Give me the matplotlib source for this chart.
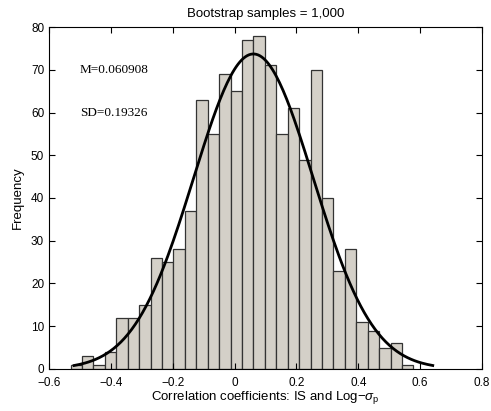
import numpy as np
import matplotlib
matplotlib.use("Agg")
import matplotlib.pyplot as plt

# histogram counts (30 bins)
counts = [1, 3, 1, 4, 12, 12, 15, 26, 25, 28, 37, 63, 55, 69, 65,
          77, 78, 71, 55, 61, 49, 70, 40, 23, 28, 11, 9, 5, 6, 1]
bin_lo = -0.530
bin_hi = 0.578
mean_r = 0.060908
sd_r = 0.19326
n_samples = 1000
fit_binwidth = 0.0357

plt.rcParams['font.family'] = ['Liberation Sans', 'DejaVu Sans']
plt.rcParams['mathtext.fontset'] = 'custom'
plt.rcParams['mathtext.rm'] = 'Liberation Sans'
plt.rcParams['mathtext.it'] = 'Liberation Sans:italic'

fig = plt.figure(figsize=(4.91, 4.11), dpi=100)
ax = fig.add_axes([0.0998, 0.1022, 0.8819, 0.8321])

edges = np.linspace(bin_lo, bin_hi, len(counts) + 1)
ax.bar(edges[:-1], counts, width=np.diff(edges), align='edge',
       color='#d4d0c8', edgecolor='#333333', linewidth=0.9)

# normal fit as in histfit: mean +- 3 sd
xs = np.linspace(mean_r - 3 * sd_r, mean_r + 3 * sd_r, 200)
ys = n_samples * fit_binwidth * np.exp(-0.5 * ((xs - mean_r) / sd_r) ** 2) / (sd_r * np.sqrt(2 * np.pi))
ax.plot(xs, ys, color='black', linewidth=2)

ax.text(-0.5, 70, 'M=0.060908', family='Liberation Serif', fontsize=9.5, va='center')
ax.text(-0.5, 60, 'SD=0.19326', family='Liberation Serif', fontsize=9.5, va='center')

ax.set_xlim(-0.6, 0.8)
ax.set_ylim(0, 80)
ax.set_xticks(np.arange(-0.6, 0.81, 0.2))
ax.set_xticklabels(['\u22120.6', '\u22120.4', '\u22120.2', '0', '0.2', '0.4', '0.6', '0.8'])
ax.set_yticks(range(0, 81, 10))
ax.tick_params(direction='in', top=True, right=True, labelsize=8.5, length=4, width=0.8)
ax.tick_params(axis='x', pad=6)
for s in ax.spines.values():
    s.set_linewidth(0.8)

ax.set_title('Bootstrap samples = 1,000', fontsize=9.5, pad=7)
ax.set_xlabel(r'Correlation coefficients: IS and Log$-\sigma_{\mathrm{p}}$', fontsize=9.5, labelpad=0)
ax.set_ylabel('Frequency', fontsize=9.5, labelpad=5)

fig.savefig('out.png', dpi=100)
